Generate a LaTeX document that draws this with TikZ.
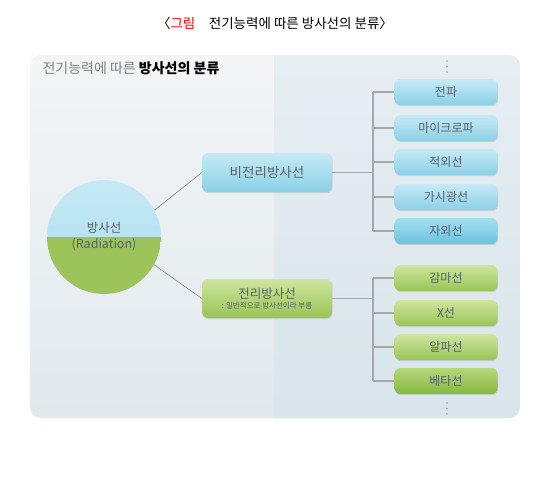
\documentclass[tikz,border=0pt]{standalone}
\usepackage{fontspec}
\setmainfont{Noto Sans CJK KR}
\usetikzlibrary{positioning, shadows}

\definecolor{paneltop}{HTML}{F3F5F6}
\definecolor{panelbot}{HTML}{E1E9ED}
\definecolor{sidetop}{HTML}{E6EEF2}
\definecolor{sidebot}{HTML}{D9E5EB}
\definecolor{skytop}{HTML}{C6EAF5}
\definecolor{skybot}{HTML}{8BD0E6}
\definecolor{deepskytop}{HTML}{A6DDEE}
\definecolor{deepskybot}{HTML}{6CC2DF}
\definecolor{leaftop}{HTML}{CFE5A0}
\definecolor{leafbot}{HTML}{99C455}
\definecolor{deepleaftop}{HTML}{B5D77A}
\definecolor{deepleafbot}{HTML}{86B840}
\definecolor{ballsky}{HTML}{A9DCEE}
\definecolor{ballleaf}{HTML}{9CC45A}
\definecolor{boxtext}{HTML}{56616A}
\definecolor{branch}{HTML}{A6A9AB}

\begin{document}
\begin{tikzpicture}[
    x=1pt, y=-1pt, % pixel units, y downwards
    treeline/.style={branch, line width=1.3pt},
    spoke/.style={gray, line width=0.6pt},
    softshadow/.style={drop shadow={opacity=0.22, shadow xshift=0.6pt, shadow yshift=-1.2pt}},
    kindbox/.style={rounded corners=6pt, minimum width=130pt, minimum height=39pt,
        inner sep=0pt, text=boxtext, align=center, softshadow},
    itembox/.style={rounded corners=6pt, minimum width=103pt, minimum height=26pt,
        inner sep=0pt, text=boxtext, font=\fontsize{12}{14}\selectfont, softshadow},
    skybox/.style={top color=skytop, bottom color=skybot},
    leafbox/.style={top color=leaftop, bottom color=leafbot},
    radball/.style={circle, minimum size=114pt, inner sep=0pt, align=center,
        text=boxtext, font=\fontsize{12.5}{16}\selectfont,
        path picture={
            \shade[top color=skytop, bottom color=ballsky]
                (path picture bounding box.north west) rectangle (path picture bounding box.east);
            \fill[ballleaf]
                (path picture bounding box.west) rectangle (path picture bounding box.south east);
        }}
]

% Canvas
\useasboundingbox (0,0) rectangle (550,482);
\fill[white] (0,0) rectangle (550,482);

% Title
\node[font=\fontsize{13.5}{16}\selectfont] (title) at (275,23)
    {〈{\color{red}그림}\quad 전기능력에 따른 방사선의 분류〉};

% Panel with lighter left part and bluish right part
\begin{scope}
    \clip[rounded corners=11pt] (30,55) rectangle (520,418);
    \shade[top color=paneltop, bottom color=panelbot] (30,55) rectangle (520,418);
    \shade[top color=sidetop, bottom color=sidebot] (274,55) rectangle (520,418);
\end{scope}
\node[anchor=west, font=\fontsize{14}{16}\selectfont] (head) at (39,68)
    {{\color{gray}전기능력에 따른} \textbf{방사선의 분류}};

% Main circle
\node[radball] (rad) at (104,237) {방사선\\(Radiation)};

% Two kinds
\node[kindbox, skybox, font=\fontsize{13.5}{15}\selectfont] (nonion) at (267,172.5) {비전리방사선};
\node[kindbox, leafbox] (ion) at (267,298.5)
    {{\fontsize{12.5}{15}\selectfont 전리방사선}\\[-2pt]{\fontsize{7.5}{9}\selectfont : 일반적으로 방사선이라 부름}};

\draw[spoke] (rad.28) -- (nonion.west);
\draw[spoke] (rad.-29) -- (ion.west);

% Non-ionizing list
\node[itembox, skybox] (wave)  at (446,92)  {전파};
\node[itembox, skybox] (micro) at (446,128) {마이크로파};
\node[itembox, skybox] (infra) at (446,162) {적외선};
\node[itembox, skybox] (light) at (446,197) {가시광선};
\node[itembox, top color=deepskytop, bottom color=deepskybot] (uv) at (446,231) {자외선};

% Ionizing list
\node[itembox, leafbox] (gamma) at (446,278) {감마선};
\node[itembox, leafbox] (xray)  at (446,313) {X선};
\node[itembox, leafbox] (alpha) at (446,347) {알파선};
\node[itembox, top color=deepleaftop, bottom color=deepleafbot] (beta) at (446,381) {베타선};

% Branch lines
\coordinate (ubus) at (373,0);
\coordinate (lbus) at (373,0);
\draw[treeline] (nonion.east) -- (nonion.east -| ubus);
\draw[treeline] (ubus |- wave) -- (ubus |- uv);
\foreach \n in {wave, micro, infra, light, uv}
    \draw[treeline] (ubus |- \n) -- (\n.west);
\draw[treeline] (ion.east) -- (ion.east -| lbus);
\draw[treeline] (lbus |- gamma) -- (lbus |- beta);
\foreach \n in {gamma, xray, alpha, beta}
    \draw[treeline] (lbus |- \n) -- (\n.west);

% Continuation dots
\foreach \y in {61,66.5,72,403,408.5,414}
    \fill[gray!80] (447,\y) circle (0.9pt);

\end{tikzpicture}
\end{document}
